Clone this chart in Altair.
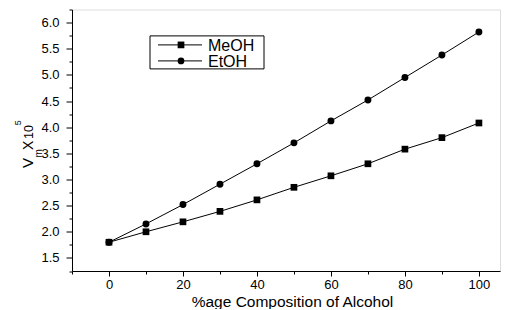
import altair as alt
import pandas as pd

series_names = ["MeOH", "EtOH"]
composition = [0, 10, 20, 30, 40, 50, 60, 70, 80, 90, 100]
meoh = [1.80, 2.00, 2.19, 2.39, 2.61, 2.85, 3.07, 3.30, 3.58, 3.80, 4.08]
etoh = [1.80, 2.15, 2.52, 2.91, 3.30, 3.70, 4.12, 4.52, 4.95, 5.38, 5.82]
x_major = [0, 20, 40, 60, 80, 100]
x_minor = [-10, 10, 30, 50, 70, 90]
y_major = [1.5, 2.0, 2.5, 3.0, 3.5, 4.0, 4.5, 5.0, 5.5, 6.0]
y_minor = [1.25, 1.75, 2.25, 2.75, 3.25, 3.75, 4.25, 4.75, 5.25, 5.75, 6.25]
x_title = "%age Composition of Alcohol"

rows = []
for name, vals in zip(series_names, [meoh, etoh]):
    for c, v in zip(composition, vals):
        rows.append({"x": c, "v": v, "series": name})
df = pd.DataFrame(rows)

FONT = "Liberation Sans"

xscale = alt.Scale(domain=[-10, 105.7], nice=False, zero=False)
yscale = alt.Scale(domain=[1.25, 6.25], nice=False, zero=False)

xaxis = alt.Axis(
    orient="bottom", values=x_major, title=x_title, grid=False, format="d",
    tickSize=5, labelPadding=2, labelFontSize=13, labelFont=FONT, labelColor="black",
    titleFont=FONT, titleFontSize=15.5, titleFontWeight="normal", titleColor="black",
    titleX=220, titleY=35, titleBaseline="alphabetic", titleAlign="center",
    domainColor="black", tickColor="black", labelFlush=False, labelOverlap=False,
)
yaxis = alt.Axis(
    orient="left", values=y_major, title=None, grid=False, format=".1f",
    tickSize=6, labelPadding=7, labelFontSize=13, labelFont=FONT, labelColor="black",
    domainColor="black", tickColor="black", labelFlush=False, labelOverlap=False,
)
xaxis_minor = alt.Axis(
    orient="bottom", values=x_minor, title=None, labels=False, grid=False,
    tickSize=3, domain=False, tickColor="black",
)
yaxis_minor = alt.Axis(
    orient="left", values=y_minor, title=None, labels=False, grid=False,
    tickSize=3, domain=False, tickColor="black",
)

base = alt.Chart(df)
lines = base.mark_line(color="black", strokeWidth=1).encode(
    x=alt.X("x:Q", scale=xscale, axis=xaxis),
    y=alt.Y("v:Q", scale=yscale, axis=yaxis),
    detail="series:N",
)
points = base.mark_point(filled=True, color="black", opacity=1).encode(
    x=alt.X("x:Q", scale=xscale, axis=xaxis_minor),
    y=alt.Y("v:Q", scale=yscale, axis=yaxis_minor),
    shape=alt.Shape("series:N", scale=alt.Scale(domain=series_names, range=["square", "circle"]), legend=None),
    size=alt.Size("series:N", scale=alt.Scale(domain=series_names, range=[45, 48]), legend=None),
)

main = alt.layer(lines, points).resolve_axis(x="independent", y="independent")

one = alt.Chart(pd.DataFrame({"a": [0]}))

# Legend box
box = one.mark_rect(fill="white", stroke="black", strokeWidth=1).encode(
    x=alt.value(78), x2=alt.value(192), y=alt.value(26.4), y2=alt.value(59.4)
)
legend_layers = [box]
row_y = [35.4, 51.4]
shapes = ["square", "circle"]
for name, ry, shp in zip(series_names, row_y, shapes):
    d = alt.Chart(pd.DataFrame({"series": [name]}))
    legend_layers.append(
        d.mark_rule(color="black", strokeWidth=1).encode(
            x=alt.value(86), x2=alt.value(130), y=alt.value(ry)
        )
    )
    legend_layers.append(
        d.mark_point(filled=True, color="black", opacity=1, shape=shp, size=45).encode(
            x=alt.value(109), y=alt.value(ry)
        )
    )
    legend_layers.append(
        d.mark_text(align="left", baseline="middle", fontSize=16, font=FONT, color="black").encode(
            x=alt.value(136), y=alt.value(ry + 1), text="series:N"
        )
    )

# Y axis title: V_m X 10^5 (rotated)
ytitle_parts = [
    ("V", 15, -39, 158.5),
    ("m", 10, -30, 148.0),
    ("X", 14, -39, 140.5),
    ("10", 12.5, -39, 129.5),
    ("5", 9, -51, 115.8),
]
ytitle_layers = []
for txt, fs, px, py in ytitle_parts:
    ytitle_layers.append(
        one.mark_text(text=txt, fontSize=fs, font=FONT, color="black", angle=270,
                      align="left", baseline="alphabetic").encode(
            x=alt.value(px), y=alt.value(py)
        )
    )

chart = alt.layer(main, *legend_layers, *ytitle_layers).properties(
    width=428, height=261.5,
    autosize=alt.AutoSizeParams(type="none"),
    padding={"left": 64, "top": 1.5, "right": 1, "bottom": 38},
).configure_view(stroke=None).configure(background="white")

chart.save("out.html", embed_options={"renderer": "svg", "actions": False})
